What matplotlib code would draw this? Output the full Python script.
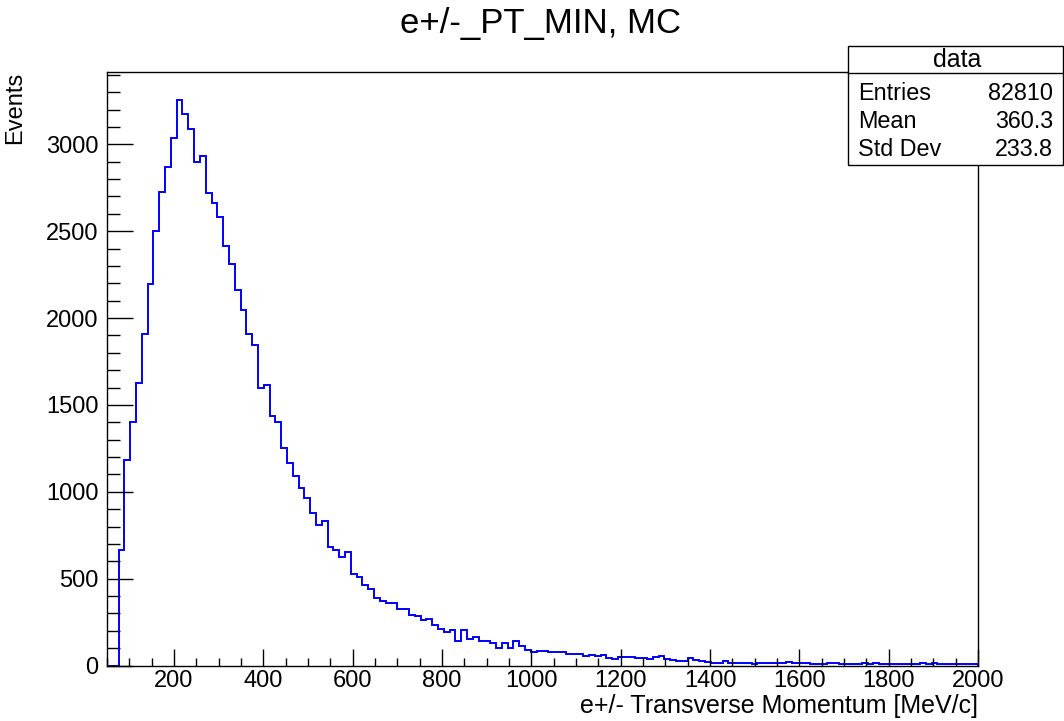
import numpy as np
import matplotlib.pyplot as plt
from matplotlib.ticker import MultipleLocator
from matplotlib.patches import Rectangle

plt.rcParams['font.family'] = ['Liberation Sans', 'DejaVu Sans']

# histogram: 150 bins of 13 MeV/c from 50 to 2000
x_min = 50
x_max = 2000
n_bins = 150
counts = [
    0, 0,
    665, 1184, 1399, 1629, 1910, 2197, 2499, 2726, 2868, 3035, 3254, 3173, 3091,
    2897, 2931, 2718, 2660, 2582, 2413, 2311, 2163,
    2044, 1910, 1845, 1600, 1614, 1439, 1404, 1253, 1163, 1092, 1019, 967, 877,
    808, 832, 684, 665, 623, 656, 527, 508, 465, 442, 387, 372, 362, 362, 324,
    324, 291, 287, 262, 270, 232, 209, 191, 203, 143, 206, 154, 162,
    140, 140, 127, 102, 127, 102, 140, 113, 92,
    77, 82, 82, 77, 77, 77, 65, 69, 69, 55, 62, 55, 62, 46, 38, 50, 50, 50, 44,
    46, 40, 50, 53, 40, 31, 27, 27, 46, 31, 25, 21, 17, 17, 25, 17, 15, 15, 17,
    11, 15, 15, 13, 13, 15, 19, 17, 15, 17,
    6, 6, 11, 15, 15, 11, 11, 11, 11, 15, 8, 13, 6, 6, 8, 8, 8, 8, 8, 13, 8,
    13, 8, 6, 6, 6, 6, 6, 6,
]

title = "e+/-_PT_MIN, MC"
x_label = "e+/- Transverse Momentum [MeV/c]"
y_label = "Events"
stats_name = "data"
stats_keys = ["Entries", "Mean", "Std Dev"]
stats_vals = ["82810", "360.3", "233.8"]

edges = np.linspace(x_min, x_max, n_bins + 1)
counts = np.array(counts, dtype=float)

fig = plt.figure(figsize=(10.64, 7.21), dpi=100)
ax = fig.add_axes([107 / 1064, 1 - 665.5 / 721, (978 - 107) / 1064, (665.5 - 72) / 721])

ax.stairs(counts, edges, color='#0000ff', linewidth=1.4, baseline=0)

ax.set_xlim(x_min, x_max)
ax.set_ylim(0, 1.05 * counts.max())

ax.xaxis.set_major_locator(MultipleLocator(200))
ax.xaxis.set_minor_locator(MultipleLocator(50))
ax.yaxis.set_major_locator(MultipleLocator(500))
ax.yaxis.set_minor_locator(MultipleLocator(100))

ax.tick_params(axis='x', which='major', direction='in', length=12, width=1,
               labelsize=17, pad=3)
ax.tick_params(axis='x', which='minor', direction='in', length=6, width=1)
ax.tick_params(axis='y', which='major', direction='in', length=18.5, width=1,
               labelsize=17, pad=6)
ax.tick_params(axis='y', which='minor', direction='in', length=9.3, width=1)
for s in ax.spines.values():
    s.set_linewidth(1)

fig.text(541 / 1064, 1 - 23 / 721, title, ha='center', va='center', fontsize=25)
fig.text(978 / 1064, 1 - 713 / 721, x_label, ha='right', va='baseline', fontsize=18)
fig.text(15 / 1064, 1 - 72 / 721, y_label, ha='center', va='top', rotation=90,
         fontsize=17)

# stats box
bx0, bx1 = 848 / 1064, 1063 / 1064
by0, by1 = 1 - 165 / 721, 1 - 46 / 721
fig.patches.append(Rectangle((bx0, by0), bx1 - bx0, by1 - by0, transform=fig.transFigure,
                             facecolor='white', edgecolor='black', linewidth=1, zorder=5))
sep = 1 - 73 / 721
fig.lines.append(plt.Line2D([bx0, bx1], [sep, sep], transform=fig.transFigure,
                            color='black', linewidth=1, zorder=6))
fig.text((bx0 + bx1) / 2 + 0.002, 1 - 60 / 721, stats_name, ha='center', va='center',
         fontsize=18, zorder=7)
row_y = [93, 121.5, 150]
for key, val, yy in zip(stats_keys, stats_vals, row_y):
    fig.text(858 / 1064, 1 - yy / 721, key, ha='left', va='center', fontsize=16.8, zorder=7)
    fig.text(1053 / 1064, 1 - yy / 721, val, ha='right', va='center', fontsize=16.8, zorder=7)

fig.savefig('out.png', dpi=100)
